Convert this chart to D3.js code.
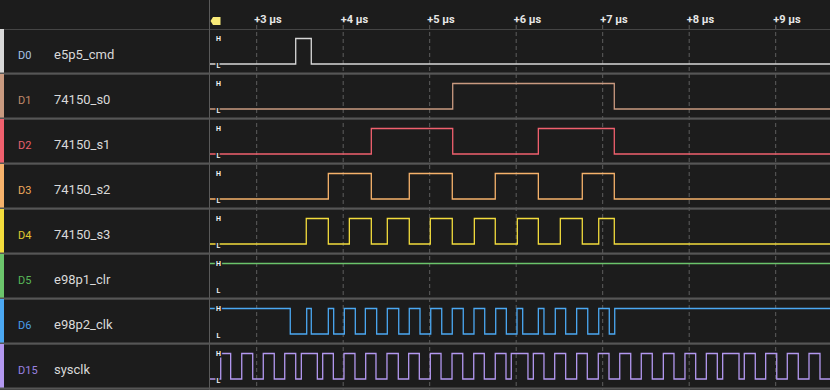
<!DOCTYPE html>
<html>
<head>
<meta charset="utf-8">
<script src="https://cdn.jsdelivr.net/npm/d3@7"></script>
<style>
  html, body { margin: 0; padding: 0; background: #1c1c1c; }
  svg { display: block; font-family: Roboto, "Noto Sans", sans-serif; }
  .tick-label { fill: #e6e6e6; font-size: 11px; font-weight: bold; }
  .hl { fill: #f2f2f2; font-size: 7px; font-weight: bold; stroke: #1c1c1c; stroke-width: 3px; paint-order: stroke; }
</style>
</head>
<body>
<svg id="chart" width="830" height="390"></svg>
<script>
// channel list
const channels = ["D0", "D1", "D2", "D3", "D4", "D5", "D6", "D15"];
const names = ["e5p5_cmd", "74150_s0", "74150_s1", "74150_s2", "74150_s3", "e98p1_clr", "e98p2_clk", "sysclk"];
const colors = ["#d8d8d8", "#c99a80", "#f0606e", "#f6b26b", "#f2dc3c", "#6bc46b", "#4ba8f2", "#b398f0"];
const labelColors = ["#a9c4e4", "#c08a6a", "#e8606c", "#f0aa5c", "#e0c830", "#58b858", "#4a9ee8", "#9a82e0"];
// level before the first visible edge (0 = L, 1 = H)
const initLevels = [0, 0, 0, 0, 0, 1, 1, 0];

// edge times in µs
const d0Edges = [3.451, 3.631];
const d1Edges = [5.266, 7.134];
const d2Edges = [4.325, 5.266, 6.256, 7.134];
const d3Edges = [3.828, 4.325, 4.764, 5.261, 5.758, 6.256, 6.764, 7.134];
const d4Edges = [3.573, 3.828, 4.071, 4.325, 4.510, 4.764, 5.007, 5.261, 5.516, 5.758,
  6.013, 6.256, 6.510, 6.764, 6.954, 7.134];
const d5Edges = [];
const d6Edges = [3.388, 3.578, 3.631, 3.828, 3.890, 4.013, 4.140, 4.256, 4.387, 4.510,
  4.642, 4.764, 4.888, 5.012, 5.139, 5.261, 5.388, 5.512, 5.636, 5.763, 5.886, 6.009,
  6.075, 6.256, 6.321, 6.452, 6.572, 6.699, 6.827, 6.954, 7.076, 7.139];
const d15Edges = [2.584, 2.699, 2.827, 2.954, 3.076, 3.203, 3.324, 3.451, 3.516, 3.701,
  3.763, 3.886, 4.009, 4.136, 4.260, 4.379, 4.506, 4.637, 4.757, 4.880, 5.007, 5.131,
  5.258, 5.382, 5.509, 5.631, 5.758, 5.882, 5.943, 6.136, 6.198, 6.321, 6.445, 6.572,
  6.699, 6.822, 6.949, 7.073, 7.197, 7.324, 7.446, 7.573, 7.701, 7.824, 7.951, 8.075,
  8.198, 8.325, 8.387, 8.576, 8.637, 8.764, 8.884, 9.012, 9.134, 9.261, 9.385, 9.512];
const allEdges = [d0Edges, d1Edges, d2Edges, d3Edges, d4Edges, d5Edges, d6Edges, d15Edges];

// time ruler
const tickTimes = [3, 4, 5, 6, 7, 8, 9];
const tickLabels = ["+3 µs", "+4 µs", "+5 µs", "+6 µs", "+7 µs", "+8 µs", "+9 µs"];

const svg = d3.select("#chart");
const width = +svg.attr("width");
const height = +svg.attr("height");
const traceLeft = 210;
const headerH = 29;

const x = d3.scaleLinear().domain([3, 9]).range([256.7, 775.7]);
const tMin = x.invert(traceLeft - 5);
const tMax = x.invert(width + 5);

const row = d3.scaleBand().domain(channels).range([headerH, headerH + 45 * channels.length]);

// background
svg.append("rect").attr("width", width).attr("height", height).attr("fill", "#1c1c1c");

// clip for traces
svg.append("clipPath").attr("id", "traceClip")
  .append("rect").attr("x", traceLeft).attr("y", 0).attr("width", width - traceLeft).attr("height", height);

// dashed time grid
svg.append("g").selectAll("line").data(tickTimes).join("line")
  .attr("x1", d => x(d)).attr("x2", d => x(d))
  .attr("y1", 25).attr("y2", height)
  .attr("stroke", "#5e5e5e").attr("stroke-width", 1)
  .attr("stroke-dasharray", "4,3");

svg.append("g").selectAll("text").data(tickTimes).join("text")
  .attr("class", "tick-label")
  .attr("x", d => x(d) - 2.5)
  .attr("y", 23)
  .text((d, i) => tickLabels[i]);

// header line and left divider
svg.append("line").attr("x1", 0).attr("x2", width).attr("y1", headerH + 0.5).attr("y2", headerH + 0.5)
  .attr("stroke", "#454545");
svg.append("line").attr("x1", traceLeft - 0.5).attr("x2", traceLeft - 0.5).attr("y1", 0).attr("y2", height)
  .attr("stroke", "#5a5a5a");

// trigger marker
svg.append("path")
  .attr("d", "M210.5,21 L213,17 L220.5,17 L220.5,25 L213,25 Z")
  .attr("fill", "#f8ea78");

// rows
const rows = svg.append("g").selectAll("g").data(channels).join("g")
  .attr("transform", d => "translate(0," + row(d) + ")");

// colour bar on the left
rows.append("rect")
  .attr("x", 0).attr("y", 0).attr("width", 4).attr("height", row.bandwidth())
  .attr("fill", (d, i) => colors[i]);

rows.append("text")
  .attr("x", 18).attr("y", 30)
  .attr("font-size", 11)
  .attr("fill", (d, i) => labelColors[i])
  .text(d => d);

rows.append("text")
  .attr("x", 54).attr("y", 30)
  .attr("font-size", 13)
  .attr("fill", "#d9d9d9")
  .text((d, i) => names[i]);

// separators
rows.append("rect")
  .attr("x", 0).attr("y", row.bandwidth() - 1.5).attr("width", width).attr("height", 2.2)
  .attr("fill", "#565656");

// traces
const level = d3.scaleLinear().domain([0, 1]).range([35, 9.5]);
const line = d3.line()
  .x(d => x(d[0]))
  .y(d => level(d[1]))
  .curve(d3.curveStepAfter);

function points(i) {
  let v = initLevels[i];
  const pts = [[tMin, v]];
  allEdges[i].forEach(t => { v = 1 - v; pts.push([t, v]); });
  pts.push([tMax, v]);
  return pts;
}

rows.append("path")
  .attr("clip-path", "url(#traceClip)")
  .attr("d", (d, i) => line(points(i)))
  .attr("fill", "none")
  .attr("stroke", (d, i) => colors[i])
  .attr("stroke-width", 1.3);

// H / L markers
rows.append("text").attr("class", "hl")
  .attr("x", 218.5).attr("y", level(1) + 2.5).attr("text-anchor", "middle").text("H");
rows.append("text").attr("class", "hl")
  .attr("x", 218.5).attr("y", level(0) + 4).attr("text-anchor", "middle").text("L");
</script>
</body>
</html>
